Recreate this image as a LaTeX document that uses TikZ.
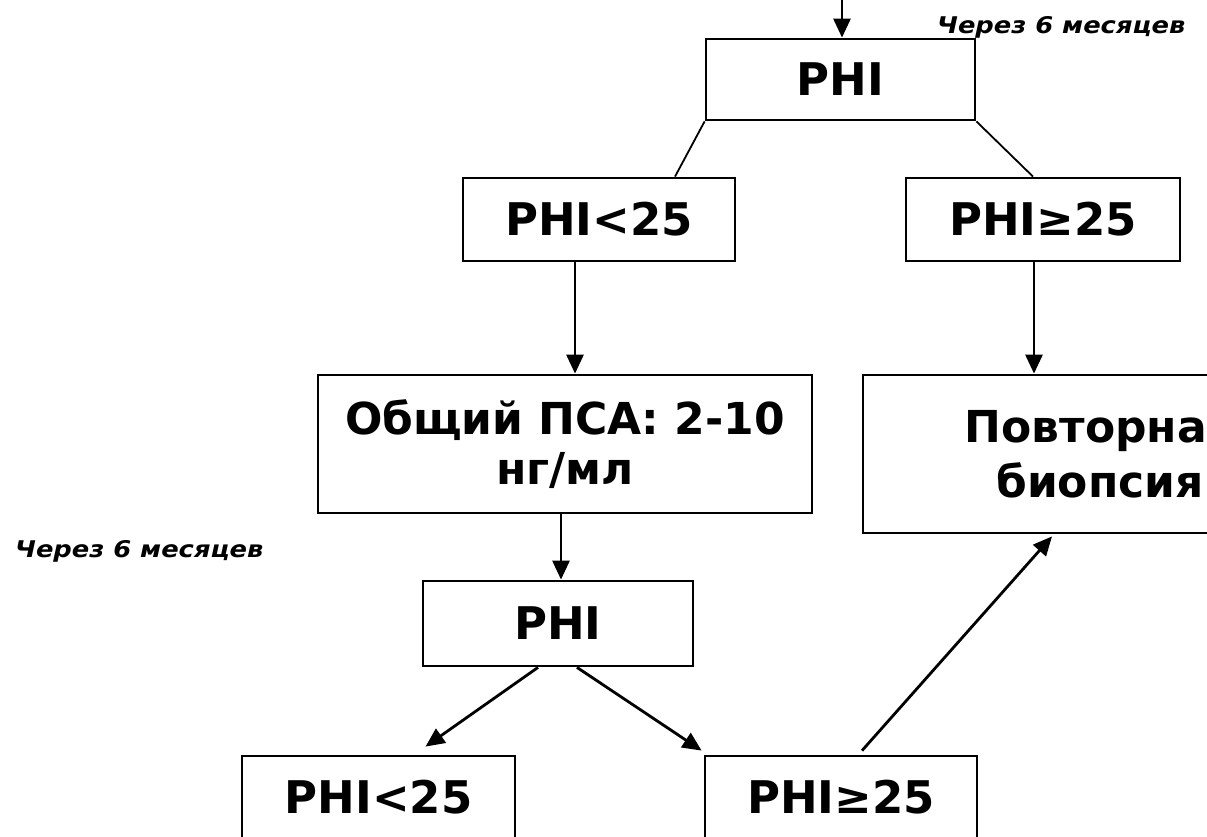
\documentclass[tikz,border=0pt]{standalone}
\usepackage{fontspec}
\setmainfont{DejaVu Sans}
\newfontfamily\lblfont[FakeStretch=1.12]{DejaVu Sans}
\usetikzlibrary{arrows.meta,calc}
\tikzset{
  box/.style={draw=black,line width=2.8pt,fill=white,inner sep=0pt,align=center,
    font=\fontsize{45}{52}\selectfont\bfseries},
  arr/.style={line width=2.8pt,-{Triangle[length=19pt,width=17pt]}},
  thin/.style={line width=1.8pt},
  lbl/.style={inner sep=0pt,font=\fontsize{23}{25}\selectfont\lblfont\bfseries\itshape}
}
\begin{document}
\begin{tikzpicture}[x=1pt,y=-1pt]
\clip (0,0) rectangle (1207,836);
\fill[white] (0,0) rectangle (1207,836);
% boxes
\node[box,minimum width=269pt,minimum height=81pt] (phi1) at (840.5,79.5) {PHI};
\node[box,minimum width=272pt,minimum height=83pt] (lt1) at (599,219.5) {PHI<25};
\node[box,minimum width=274pt,minimum height=83pt] (ge1) at (1043,219.5) {PHI≥25};
\node[box,minimum width=494pt,minimum height=138pt,font=\fontsize{44}{50}\selectfont\bfseries] (psa) at (565,444) {Общий ПСА: 2-10\\нг/мл};
\node[box,minimum width=474pt,minimum height=158pt,font=\fontsize{44}{55}\selectfont\bfseries] (rep) at (1100,454) {Повторная\\биопсия};
\node[box,minimum width=270pt,minimum height=85pt] (phi2) at (558,623.5) {PHI};
\node[box,minimum width=273pt,minimum height=83pt] (lt2) at (378.5,797.5) {PHI<25};
\node[box,minimum width=272pt,minimum height=83pt] (ge2) at (841,797.5) {PHI≥25};
% labels
\node[lbl,anchor=base west] (l1) at (937,33) {Через 6 месяцев};
\node[lbl,anchor=base west] (l2) at (15,557) {Через 6 месяцев};
% connectors
\coordinate (top) at (842,-5);
\draw[arr] (top) -- (top |- phi1.north);
\draw[thin] (phi1.south west) -- ([xshift=76pt]lt1.north);
\draw[thin] (phi1.south east) -- ([xshift=-10pt]ge1.north);
\draw[arr] ([xshift=-24pt]lt1.south) -- ([xshift=-24pt]lt1.south |- psa.north);
\draw[arr] ([xshift=-9pt]ge1.south) -- ([xshift=-9pt]ge1.south |- rep.north);
\draw[arr] ([xshift=3pt]phi2.north |- psa.south) -- ([xshift=3pt]phi2.north);
\draw[arr] ([xshift=-20pt]phi2.south) -- ([xshift=47pt,yshift=8pt]lt2.north);
\draw[arr] ([xshift=19pt]phi2.south) -- ([xshift=-2pt,yshift=4pt]ge2.north west);
\draw[arr] ([xshift=21pt,yshift=4pt]ge2.north) -- ([xshift=-48pt,yshift=-2pt]rep.south);
\end{tikzpicture}
\end{document}
